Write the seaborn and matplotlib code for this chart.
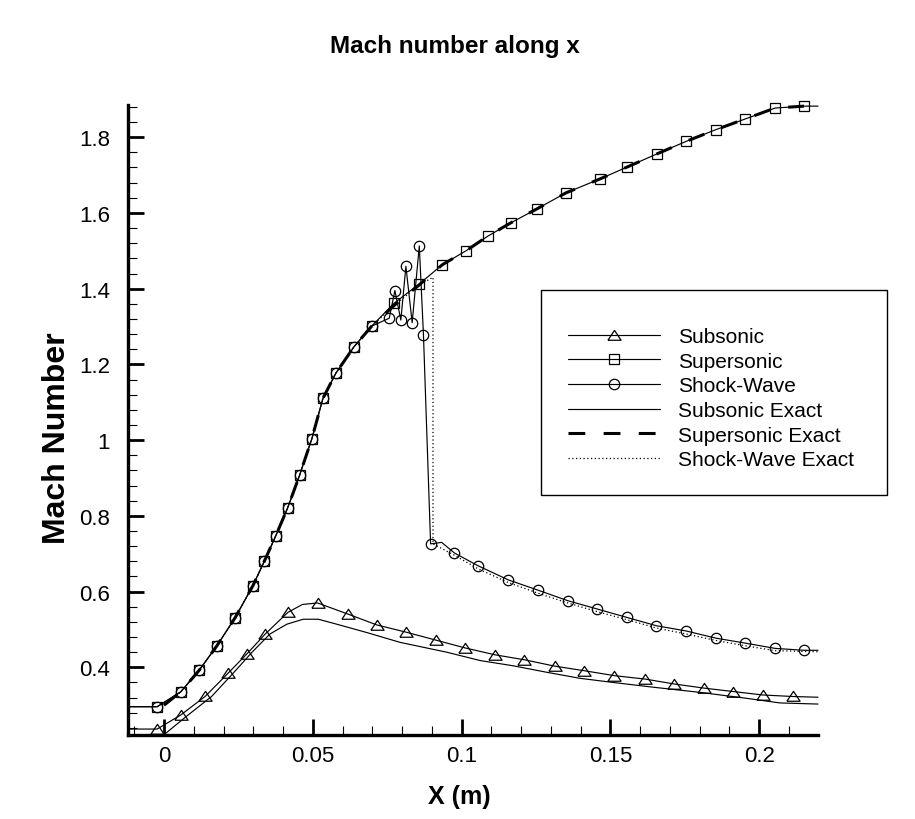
import numpy as np
import pandas as pd
import matplotlib
matplotlib.use("Agg")
import matplotlib.pyplot as plt
import seaborn as sns
from matplotlib.patches import Rectangle
from matplotlib.lines import Line2D

# ---------------- data ----------------
x_sub = [-0.0121, -0.0023, 0.0056, 0.0138, 0.0216, 0.0278, 0.0339, 0.0416, 0.0465, 0.0516,
         0.0617, 0.0715, 0.0813, 0.0913, 0.1013, 0.1113, 0.1211, 0.1314, 0.1413, 0.1514,
         0.1617, 0.1715, 0.1816, 0.1914, 0.2012, 0.2113, 0.2198]
y_sub = [0.237, 0.237, 0.274, 0.323, 0.385, 0.435, 0.487, 0.545, 0.566, 0.570,
         0.541, 0.512, 0.493, 0.472, 0.451, 0.433, 0.420, 0.403, 0.391, 0.378,
         0.369, 0.356, 0.345, 0.336, 0.327, 0.323, 0.321]
mk_sub = [i for i in range(1, len(x_sub) - 1) if i != 8]

x_sup = [-0.0121, -0.0023, 0.0056, 0.0118, 0.0177, 0.0239, 0.0299, 0.0337, 0.0376, 0.0416,
         0.0456, 0.0497, 0.0534, 0.0577, 0.0638, 0.0698, 0.0774, 0.0858, 0.0935, 0.1015,
         0.1089, 0.1166, 0.1254, 0.1351, 0.1466, 0.1556, 0.1657, 0.1755, 0.1855, 0.1953,
         0.2054, 0.2151, 0.2198]
y_sup = [0.296, 0.296, 0.335, 0.392, 0.456, 0.531, 0.616, 0.680, 0.748, 0.822,
         0.908, 1.004, 1.110, 1.176, 1.246, 1.301, 1.362, 1.4125, 1.463, 1.500,
         1.539, 1.574, 1.611, 1.653, 1.690, 1.721, 1.756, 1.789, 1.820, 1.848,
         1.877, 1.882, 1.882]
mk_sup = list(range(1, len(x_sup) - 1))

x_shk = [-0.0121, -0.0023, 0.0056, 0.0118, 0.0177, 0.0239, 0.0299, 0.0337, 0.0376, 0.0416,
         0.0456, 0.0497, 0.0534, 0.0577, 0.0638, 0.0698, 0.0757, 0.0776, 0.0796, 0.0813,
         0.0834, 0.0858, 0.0872, 0.0896, 0.0933, 0.0976, 0.1056, 0.1157, 0.1256, 0.1357,
         0.1456, 0.1555, 0.1654, 0.1755, 0.1855, 0.1953, 0.2054, 0.2151, 0.2198]
y_shk = [0.296, 0.296, 0.335, 0.392, 0.456, 0.531, 0.616, 0.680, 0.748, 0.822,
         0.908, 1.004, 1.110, 1.176, 1.246, 1.301, 1.322, 1.395, 1.317, 1.459,
         1.310, 1.513, 1.278, 0.726, 0.730, 0.702, 0.668, 0.631, 0.604, 0.576,
         0.554, 0.532, 0.510, 0.496, 0.477, 0.464, 0.450, 0.445, 0.445]
mk_shk = [i for i in range(1, len(x_shk) - 1) if i != 24]

x_sub_ex = [0.0, 0.0076, 0.016, 0.0233, 0.0296, 0.0356, 0.0413, 0.0468, 0.0519, 0.058,
            0.0681, 0.0793, 0.095, 0.1062, 0.1174, 0.1286, 0.1398, 0.151, 0.165, 0.18,
            0.195, 0.207, 0.2198]
y_sub_ex = [0.222, 0.271, 0.323, 0.385, 0.440, 0.488, 0.514, 0.527, 0.527, 0.514,
            0.492, 0.466, 0.440, 0.418, 0.404, 0.387, 0.371, 0.360, 0.347, 0.334,
            0.319, 0.306, 0.303]

x_sup_ex = [0.0, 0.0056, 0.0118, 0.0177, 0.0239, 0.0299, 0.0337, 0.0376, 0.0416, 0.0456,
            0.0497, 0.0534, 0.0577, 0.0638, 0.0698, 0.0774, 0.0858, 0.0935, 0.1015, 0.1089,
            0.1166, 0.1254, 0.1351, 0.1466, 0.1556, 0.1657, 0.1755, 0.1855, 0.1953, 0.2054,
            0.2151]
y_sup_ex = [0.300, 0.335, 0.392, 0.456, 0.531, 0.616, 0.680, 0.748, 0.822, 0.908,
            1.004, 1.110, 1.176, 1.246, 1.301, 1.356, 1.410, 1.463, 1.500, 1.539,
            1.574, 1.611, 1.653, 1.690, 1.721, 1.756, 1.789, 1.820, 1.848, 1.877,
            1.882]

x_shk_ex = [0.0, 0.0056, 0.0118, 0.0177, 0.0239, 0.0299, 0.0337, 0.0376, 0.0416, 0.0456,
            0.0497, 0.0534, 0.0577, 0.0638, 0.0698, 0.0774, 0.0858, 0.0904, 0.0904, 0.0976,
            0.1056, 0.1157, 0.1256, 0.1357, 0.1456, 0.1555, 0.1654, 0.1755, 0.1855, 0.1953,
            0.2054, 0.2198]
y_shk_ex = [0.300, 0.335, 0.392, 0.456, 0.531, 0.616, 0.680, 0.748, 0.822, 0.908,
            1.004, 1.110, 1.176, 1.246, 1.301, 1.356, 1.410, 1.430, 0.726, 0.696,
            0.660, 0.624, 0.596, 0.570, 0.547, 0.526, 0.504, 0.488, 0.471, 0.457,
            0.444, 0.441]

labels = ["Subsonic", "Supersonic", "Shock-Wave", "Subsonic Exact",
          "Supersonic Exact", "Shock-Wave Exact"]
x_ticks = [0, 0.05, 0.1, 0.15, 0.2]
x_ticklabels = ["0", "0.05", "0.1", "0.15", "0.2"]
y_ticks = [0.4, 0.6, 0.8, 1.0, 1.2, 1.4, 1.6, 1.8]
y_ticklabels = ["0.4", "0.6", "0.8", "1", "1.2", "1.4", "1.6", "1.8"]

# ---------------- style ----------------
sns.set_theme(style="white")
plt.rcParams['font.family'] = ['Liberation Sans', 'DejaVu Sans']
plt.rcParams['lines.scale_dashes'] = True
plt.rcParams['text.color'] = 'black'

fig = plt.figure(figsize=(9.15, 8.2), dpi=100)
ax = fig.add_axes([128 / 915, 1 - 736 / 820, (818 - 128) / 915, (736 - 106) / 820])

LW = 0.85
MS = 7.5
TRI = [(-1.0, -0.72), (1.0, -0.72), (0.0, 0.78), (-1.0, -0.72)]  # wide open triangle

def draw(x, y, **kw):
    df = pd.DataFrame({"x": x, "y": y})
    sns.lineplot(data=df, x="x", y="y", ax=ax, sort=False, estimator=None,
                 color="black", legend=False, clip_on=False, **kw)

draw(x_sub_ex, y_sub_ex, lw=LW)
draw(x_sup_ex, y_sup_ex, lw=2.2, dashes=(5.5, 6))
draw(x_shk_ex, y_shk_ex, lw=0.9, dashes=(1, 2))
draw(x_sub, y_sub, lw=LW, marker=TRI, ms=MS + 2, mfc="none", mec="black", mew=0.9,
     markevery=mk_sub)
draw(x_sup, y_sup, lw=LW, marker="s", ms=MS - 1, mfc="none", mec="black", mew=0.9,
     markevery=mk_sup)
draw(x_shk, y_shk, lw=LW, marker="o", ms=MS, mfc="none", mec="black", mew=0.9,
     markevery=mk_shk)

ax.set_xlim(-0.0121, 0.2198)
ax.set_ylim(0.2213, 1.885)
ax.set_xticks(x_ticks)
ax.set_xticklabels(x_ticklabels)
ax.set_yticks(y_ticks)
ax.set_yticklabels(y_ticklabels)
ax.set_xticks(np.arange(-0.01, 0.2199, 0.01), minor=True)
ax.set_yticks(np.arange(0.24, 1.885, 0.04), minor=True)
ax.tick_params(which="both", bottom=True, left=True, top=False, right=False)
ax.tick_params(which="major", direction="in", length=11.5, width=2.0, color="black",
               labelsize=16, labelcolor="black")
ax.tick_params(axis="y", which="major", pad=13)
ax.tick_params(axis="x", which="major", pad=7)
ax.tick_params(which="minor", direction="in", length=6.8, width=0.8, color="black")
ax.set_xlabel("")
ax.set_ylabel("")
for s in ["top", "right"]:
    ax.spines[s].set_visible(False)
for s in ["left", "bottom"]:
    ax.spines[s].set_color("black")
    ax.spines[s].set_linewidth(2.4)
    ax.spines[s].set_zorder(5)

fig.text(0.497, 1 - 46 / 820, "Mach number along x", ha="center", va="center",
         fontsize=17.5, fontweight="bold", color="black")
fig.text(0.502, 1 - 797 / 820, "X (m)", ha="center", va="center",
         fontsize=18, fontweight="bold", color="black")
fig.text(57 / 915, 1 - 438 / 820, "Mach Number", ha="center", va="center",
         rotation=90, fontsize=23, fontweight="bold", color="black")

# legend
handles = [
    Line2D([], [], color="black", lw=LW, marker=TRI, ms=MS + 2, mfc="none", mew=0.9),
    Line2D([], [], color="black", lw=LW, marker="s", ms=MS - 1, mfc="none", mew=0.9),
    Line2D([], [], color="black", lw=LW, marker="o", ms=MS, mfc="none", mew=0.9),
    Line2D([], [], color="black", lw=LW),
    Line2D([], [], color="black", lw=2.2, dashes=(5.5, 6)),
    Line2D([], [], color="black", lw=0.9, dashes=(1, 2)),
]
box = Rectangle((541 / 915, 1 - 496 / 820), (887 - 541) / 915, (496 - 291) / 820,
                transform=fig.transFigure, fill=False, edgecolor="black", lw=1.0)
fig.add_artist(box)
leg = fig.legend(handles, labels, loc="upper left",
                 bbox_to_anchor=(568 / 915, 1 - 328 / 820), frameon=False,
                 fontsize=15, handlelength=4.42, handletextpad=0.87,
                 labelspacing=0.27, numpoints=1, borderaxespad=0, borderpad=0)
for t in leg.get_texts():
    t.set_color("black")

fig.savefig("out.png", dpi=100)
